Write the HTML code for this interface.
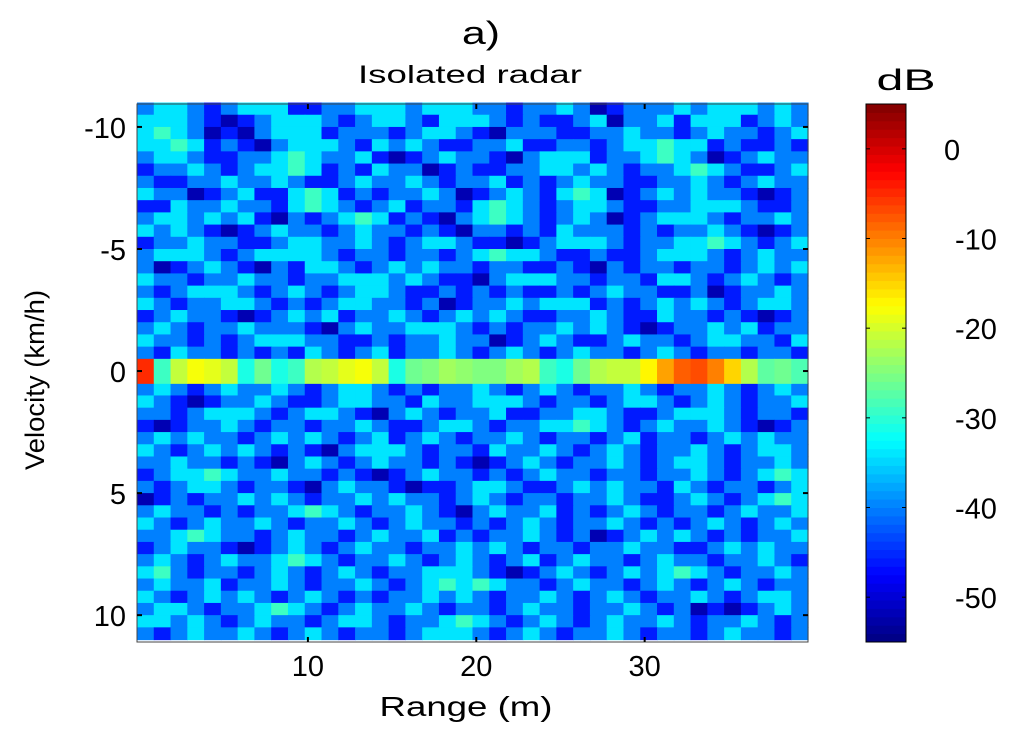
<!DOCTYPE html>
<html><head><meta charset="utf-8">
<style>
html,body{margin:0;padding:0;background:#fff;}
svg{display:block;font-family:"Liberation Sans",Arial,sans-serif;}
</style></head>
<body>
<svg id="chart" width="1024" height="737" viewBox="0 0 1024 737">
  <text x="481" y="44" text-anchor="middle" font-size="32" textLength="38" lengthAdjust="spacingAndGlyphs">a)</text>
  <text x="470" y="83" text-anchor="middle" font-size="25" textLength="224" lengthAdjust="spacingAndGlyphs">Isolated radar</text>
  <text x="906" y="90" text-anchor="middle" font-size="30" textLength="59" lengthAdjust="spacingAndGlyphs">dB</text>
  <text x="466" y="716" text-anchor="middle" font-size="28" textLength="173" lengthAdjust="spacingAndGlyphs">Range (m)</text>
  <text transform="translate(44,380) rotate(-90)" text-anchor="middle" font-size="27" textLength="180" lengthAdjust="spacingAndGlyphs">Velocity (km/h)</text>
  <g id="heat"></g>
  <g id="cbar"></g>
  <g id="axes"></g>
</svg>
<script>
// ---- data ----
const xTicks = [10, 20, 30];
const yTicks = [-10, -5, 0, 5, 10];
const cbTicks = [0, -10, -20, -30, -40, -50];
const levelKeys = ['d', 'b', 'm', 'c', 'g'];
const levelDb = [-52, -46, -40, -34, -29];
// zero-velocity row, dB per 1 m range bin (0..39)
const zeroRow = [-5,-29,-21,-18,-19,-21,-31,-26,-31,-29,-22,-21,-19,-18,-21,-31,-26,-25,-23,-24,-25,-25,-23,-22,-29,-31,-26,-22,-21,-21,-17,-12,-8,-7,-10,-15,-22,-27,-26,-28];
const topRows = [
"mccmbmcccbbmmcccmcccmmbmmcmdbmmmcmcccmcm",
"cccmbdbmcccmbmccmbcccmbmbbmcdmmcbcccbmcm",
"cgcmdbdmcccbmmmbmccmbdmmmbbmmcmmbmcmmbmc",
"ccgcbmbdmcccmbcmcmbbmmcbbmmbmccgccbmbbmb",
"mccmbbmmcgcmmcbdbmcmmbdmcccbmmcgcmdbmcmm",
"bmmcmbmccgcbmbcmmdbmbbmmccmcmbmmcgcmbbmc",
"mbbmmcmmcmbbmcmmcmbmmcbmbmcmmbbmmcmbmcmm",
"cmmdbmcbbcgcbmbmmcmdbmcmbcgcdbmcmcmmbdbm",
"bbcmmcmmbcgcmbmcbmmbcgcmbmccmbbmmcccmbbm",
"mccmcmcbdmbmcgcbmbdmcgcmbmcmdbmcccmbmmcm",
"cmcmbdbmcmmbmcmmbmbdmmbmbcmmmbmbmmcmbdbm",
"bmmcmmbbmccmmcmbmccmbbdbmcccmbmmccgcmbmc",
"mcccmbmccccmbmmbmmbmcgccmbbmbbmcccmbmcmm",
"mdbmcmbdmbccmbmcmcmmbmmbbmbdmbmmbmmbmcmc",
"cmmbmmcmmbmmcccmcmbbdmcccmmbmmbccmbmcmbm",
"mbmcccmbmcmbmccmbbmbmbmbbmbmcmmbbmdbmmcm",
"cmbmmccmbmbmccmmbmdbmmcmcccbmbmcmcmbmccm",
"bmcmmbdbmcmcbmmcmbmcmcmbbmmcmbbcmmbmbdbm",
"mcmbmmcmmmbdmcmmcccmbmbmmcmcmbdbmmcmcbmm",
"cmmbmbmcccmmbbmbmmcmmdbmcmbbmcmmbmccmmbc",
"mbcmmbmbmbcmbmcbmmcmbmcmbmcmmbmcmbmmbmmb"];
const bottomRows = [
"mcmbmcmmcmbmccmbmbmmcmbmcmbmmcmbmmcmbmcm",
"cmbdbmmcmbbmccmmbcmmcccmbmmbmccmbmcmbmmc",
"mmbmcccmbmccmbdmcmbmmcbbmmccmbbmcccmbmmb",
"bdbmmcmbmmbmmcmbbmccmbmmccgcmbmcmmcmbdbm",
"mcmcmmbmcmcmbmcbmcmbmmcmbmmbmcbmmbmcmcmm",
"cmbmcmcmbmbdmcccmbmmbcmmcmbmcmbmmcmbmccm",
"mmcmmbmbdmcmbmcmmbmbdbmcmbmmcmbmccmbmmcm",
"bmccgcmmcmmbmbdbmcmmbmbmcmmbmmbmmcmbmcgc",
"mbmccmbmmbdmcmmbdbbmccmbbmcmcmmbcmbmmbmc",
"dbmbmmcmcmbmmcmcmmbmcmbmmbmmcmbbmcmbmcgc",
"mcmmbmbmmcgcmbmmcmbdmcmmcbmbmcmbmmbmcmmc",
"cmbmcmmcmbmmcmbmcmmbmbmcmbmmcmbmbmcmbmcm",
"mmcgcmmbmcmmbmcmmcbmbmmcmbmdbmcmcmbmbmmc",
"bmcmmbdbmcmbmcmmbmmcmcmbmmbmmcmmbbmcmcmm",
"mcmbmcmmcgcmbmmcmbmcmbmcbmcmmbmcmmbmmcmb",
"cgmbmmbmcmbmcmbmmcccmbdbmcmbmcmcgcmbmmcm",
"mcmmcbmmcmbmmcmbmcgcgcmmbmcmmbmcmbmcmbmm",
"cmbmcmcmbmcmbmbmmcmcmbmmcmbmcmbmmcmbmccm",
"mccmbmmcgcmbmcmmcmbmmbmcmmbmmcmbmdbdbmcm",
"ccmcmbmcmmbmccmbmmcgcmbmcmbmcmmcmbmmcmbm",
"mbmcmmcmbmcmbmmbmcccmbmcmbmmcmbmmbmcmmbm"];

// ---- geometry ----
const PX0 = 137, PX1 = 808, PY0 = 104, PY1 = 642;
const xMin = -0.15, xMax = 39.7, yMin = -10.94, yMax = 11.1;
const dbMin = -55, dbMax = 5;
const CBX0 = 866, CBX1 = 906;
const xs = v => PX0 + (v - xMin) / (xMax - xMin) * (PX1 - PX0);
const ys = v => PY0 + (v - yMin) / (yMax - yMin) * (PY1 - PY0);
const cs = v => PY1 - (v - dbMin) / (dbMax - dbMin) * (PY1 - PY0);

function jet(t) {
  t = Math.max(0, Math.min(1, t));
  const r = Math.max(0, Math.min(1, 1.5 - Math.abs(4 * t - 3)));
  const g = Math.max(0, Math.min(1, 1.5 - Math.abs(4 * t - 2)));
  const b = Math.max(0, Math.min(1, 1.5 - Math.abs(4 * t - 1)));
  return `rgb(${Math.round(r*255)},${Math.round(g*255)},${Math.round(b*255)})`;
}
const dbColor = d => jet((d - dbMin) / (dbMax - dbMin));
const NS = 'http://www.w3.org/2000/svg';
function mk(tag, attrs, parent) {
  const e = document.createElementNS(NS, tag);
  for (const k in attrs) e.setAttribute(k, attrs[k]);
  parent.appendChild(e);
  return e;
}
const heat = document.getElementById('heat');
const nCols = zeroRow.length;
const colX0 = xMin, colW = (xMax - xMin) / nCols;
const rowH = 0.5;
function cell(ci, v0, v1, db) {
  const r = mk('rect', {x: xs(colX0 + ci * colW), y: ys(v0), width: xs(colX0 + (ci + 1) * colW) - xs(colX0 + ci * colW) + 0.6,
    height: ys(v1) - ys(v0) + 0.6, fill: dbColor(db)}, heat);
  
  
}
topRows.forEach((row, ri) => {
  const v0 = -0.5 - (topRows.length - ri) * rowH;
  for (let ci = 0; ci < nCols; ci++) cell(ci, v0, v0 + rowH, levelDb[levelKeys.indexOf(row[ci])]);
});
bottomRows.forEach((row, ri) => {
  const v0 = 0.5 + ri * rowH;
  for (let ci = 0; ci < nCols; ci++) cell(ci, v0, v0 + rowH, levelDb[levelKeys.indexOf(row[ci])]);
});
zeroRow.forEach((db, ci) => cell(ci, -0.5, 0.5, db));

// colorbar
const cbar = document.getElementById('cbar');
for (let i = 0; i < 64; i++) {
  const d0 = dbMin + i * (dbMax - dbMin) / 64, d1 = dbMin + (i + 1) * (dbMax - dbMin) / 64;
  const r = mk('rect', {x: CBX0, y: cs(d1), width: CBX1 - CBX0, height: cs(d0) - cs(d1) + 0.5, fill: dbColor((d0 + d1) / 2)}, cbar);
  
  
}
mk('rect', {x: CBX0, y: PY0, width: CBX1 - CBX0, height: PY1 - PY0, fill: 'none', stroke: '#000', 'stroke-width': 1}, cbar);
cbTicks.forEach(t => {
  mk('line', {x1: CBX1 - 4, x2: CBX1, y1: cs(t), y2: cs(t), stroke: '#000'}, cbar);
  mk('line', {x1: CBX0, x2: CBX0 + 4, y1: cs(t), y2: cs(t), stroke: '#000'}, cbar);
  const tx = mk('text', {x: t === 0 ? 944 : 955, y: cs(t) + 11, 'font-size': 29}, cbar);
  tx.textContent = t;
  
  
});

// axes
const axes = document.getElementById('axes');
mk('rect', {x: PX0, y: PY0, width: PX1 - PX0, height: PY1 - PY0, fill: 'none', stroke: '#444', 'stroke-width': 1}, axes);
xTicks.forEach(t => {
  mk('line', {x1: xs(t), x2: xs(t), y1: PY1, y2: PY1 - 5, stroke: '#000', 'stroke-width': 2}, axes);
  mk('line', {x1: xs(t), x2: xs(t), y1: PY0, y2: PY0 + 5, stroke: '#000', 'stroke-width': 2}, axes);
  const tx = mk('text', {x: xs(t), y: 676, 'text-anchor': 'middle', 'font-size': 29}, axes);
  tx.textContent = t;
  
  
});
yTicks.forEach(t => {
  mk('line', {x1: PX0, x2: PX0 + 5, y1: ys(t), y2: ys(t), stroke: '#000', 'stroke-width': 2}, axes);
  mk('line', {x1: PX1 - 5, x2: PX1, y1: ys(t), y2: ys(t), stroke: '#000', 'stroke-width': 2}, axes);
  const tx = mk('text', {x: 126, y: ys(t) + 11, 'text-anchor': 'end', 'font-size': 29}, axes);
  tx.textContent = t;
  
  
});
</script>
</body></html>
